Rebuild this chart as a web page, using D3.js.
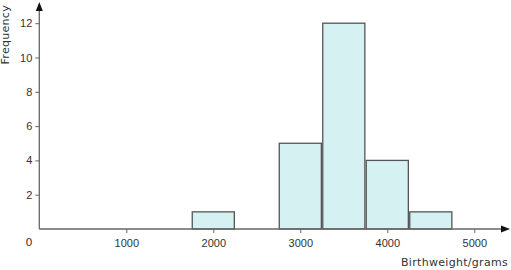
<!DOCTYPE html>
<html>
<head>
<meta charset="utf-8">
<script src="https://cdn.jsdelivr.net/npm/d3@7"></script>
<style>
  html, body { margin: 0; padding: 0; background: #fff; }
  svg { display: block; font-family: "DejaVu Sans", Verdana, sans-serif; }
</style>
</head>
<body>
<div id="chart"></div>
<script>
// ------------------------------------------------------------
// Data: birthweight class intervals (grams) and their frequencies
// ------------------------------------------------------------
const binStarts = [1750, 2750, 3250, 3750, 4250];
const binEnds = [2250, 3250, 3750, 4250, 4750];
const frequencies = [1, 5, 12, 4, 1];

const xTicks = [1000, 2000, 3000, 4000, 5000];
const yTicks = [2, 4, 6, 8, 10, 12];

const width = 511;
const height = 270;

const svg = d3.select("#chart").append("svg")
  .attr("width", width)
  .attr("height", height);

const x = d3.scaleLinear().domain([0, 1000]).range([39.3, 126.3]);
const y = d3.scaleLinear().domain([0, 2]).range([229, 194.7]);

const axisColor = "#666";
const textColor = "#333";
const inset = 0.7; // bars sit just inside their class limits

// Bars
svg.selectAll("rect.bar")
  .data(frequencies)
  .join("rect")
  .attr("class", "bar")
  .attr("x", (d, i) => x(binStarts[i]) + inset)
  .attr("y", d => y(d))
  .attr("width", (d, i) => x(binEnds[i]) - x(binStarts[i]) - 2 * inset)
  .attr("height", d => y(0) - y(d))
  .attr("fill", "#d5f1f2")
  .attr("stroke", "#555")
  .attr("stroke-width", 1.3);

// X axis
const xAxis = svg.append("g")
  .attr("transform", `translate(0,${y(0)})`)
  .call(d3.axisBottom(x).tickValues(xTicks).tickSize(4).tickPadding(6).tickFormat(d3.format("d")));
xAxis.select(".domain").remove();
xAxis.selectAll("line").attr("stroke", axisColor);
xAxis.selectAll("text").attr("fill", textColor).attr("font-size", 11).attr("font-family", null);

svg.append("line")
  .attr("x1", x(0)).attr("x2", 503)
  .attr("y1", y(0)).attr("y2", y(0))
  .attr("stroke", axisColor).attr("stroke-width", 1.3);
svg.append("path")
  .attr("d", `M510,${y(0)} L501,${y(0) - 3.5} L501,${y(0) + 3.5} Z`)
  .attr("fill", "#111");

// Y axis
const yAxis = svg.append("g")
  .attr("transform", `translate(${x(0)},0)`)
  .call(d3.axisLeft(y).tickValues(yTicks).tickSize(4).tickPadding(3).tickFormat(d3.format("d")));
yAxis.select(".domain").remove();
yAxis.selectAll("line").attr("stroke", axisColor);
yAxis.selectAll("text").attr("fill", textColor).attr("font-size", 11).attr("font-family", null);

svg.append("line")
  .attr("x1", x(0)).attr("x2", x(0))
  .attr("y1", y(0)).attr("y2", 9)
  .attr("stroke", axisColor).attr("stroke-width", 1.3);
svg.append("path")
  .attr("d", `M${x(0)},2 L${x(0) - 3.5},11 L${x(0) + 3.5},11 Z`)
  .attr("fill", "#111");

// Origin label
svg.append("text")
  .attr("x", 29)
  .attr("y", 246)
  .attr("text-anchor", "middle")
  .attr("font-size", 11)
  .attr("fill", textColor)
  .text("0");

// Axis titles
svg.append("text")
  .attr("x", 508)
  .attr("y", 266)
  .attr("text-anchor", "end")
  .attr("font-size", 11)
  .attr("fill", textColor)
  .attr("letter-spacing", 0.3)
  .text("Birthweight/grams");

svg.append("text")
  .attr("transform", "translate(9,5) rotate(-90)")
  .attr("text-anchor", "end")
  .attr("font-size", 11)
  .attr("fill", textColor)
  .attr("letter-spacing", 0.3)
  .text("Frequency");
</script>
</body>
</html>
